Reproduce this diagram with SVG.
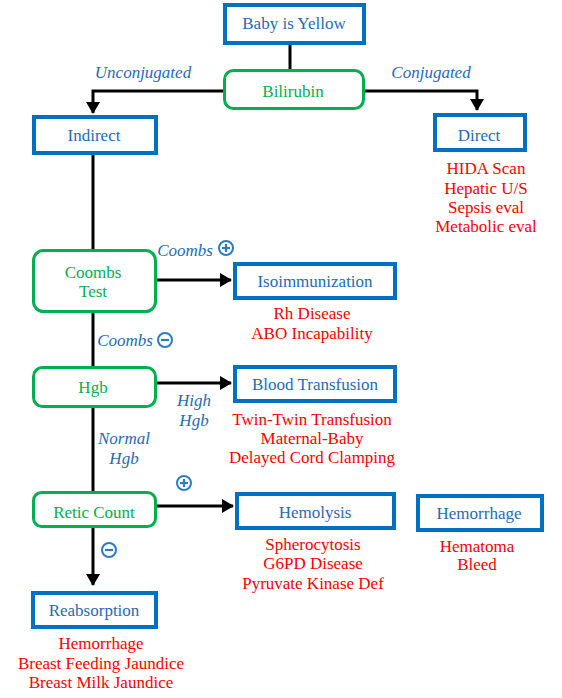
<svg xmlns="http://www.w3.org/2000/svg" width="562" height="698" viewBox="0 0 562 698" font-family="Liberation Serif, Times New Roman, serif" font-size="17" text-anchor="middle">
<defs>
<style>
.bx{fill:#fff;stroke:#0070C0;stroke-width:4}
.gx{fill:#fff;stroke:#00B050;stroke-width:3}
.bt{fill:#1F6BB5}
.gt{fill:#00B050}
.rt{fill:#FF0000}
.lb{font-style:italic;fill:#1F6BB5}
.ln{fill:none;stroke:#000;stroke-width:3}
.ic{fill:#fff;stroke:#2E7BC4;stroke-width:2}
.icl{stroke:#2E7BC4;stroke-width:2.2}
</style>
<marker id="ah" markerUnits="userSpaceOnUse" markerWidth="12" markerHeight="14" viewBox="0 0 12 14" refX="11" refY="7" orient="auto">
<path d="M0,0 L12,7 L0,14 Z" fill="#000"/>
</marker>
</defs>

<g id="connectors">
<line class="ln" x1="290" y1="45" x2="290" y2="70"/>
<polyline class="ln" points="223,91 93,91 93,113" marker-end="url(#ah)"/>
<polyline class="ln" points="365,91 477,91 477,110" marker-end="url(#ah)"/>
<line class="ln" x1="93" y1="155" x2="93" y2="249"/>
<line class="ln" x1="157" y1="280" x2="231" y2="280" marker-end="url(#ah)"/>
<line class="ln" x1="93" y1="313" x2="93" y2="366"/>
<line class="ln" x1="157" y1="383" x2="231" y2="383" marker-end="url(#ah)"/>
<line class="ln" x1="93" y1="408" x2="93" y2="491"/>
<line class="ln" x1="157" y1="506" x2="233" y2="506" marker-end="url(#ah)"/>
<line class="ln" x1="93" y1="528" x2="93" y2="585" marker-end="url(#ah)"/>
</g>

<g id="labels">
<text class="lb" x="143" y="78">Unconjugated</text>
<text class="lb" x="431" y="78">Conjugated</text>
<text class="lb" x="185" y="256">Coombs</text>
<g id="plus1"><circle class="ic" cx="226" cy="248" r="7"/><line class="icl" x1="222" y1="248" x2="230" y2="248"/><line class="icl" x1="226" y1="244" x2="226" y2="252"/></g>
<text class="lb" x="125" y="346">Coombs</text>
<g id="minus1"><circle class="ic" cx="165" cy="340" r="7"/><line class="icl" x1="161" y1="340" x2="169" y2="340"/></g>
<text class="lb" x="194" y="406">High</text>
<text class="lb" x="194" y="426">Hgb</text>
<text class="lb" x="124" y="444">Normal</text>
<text class="lb" x="124" y="464">Hgb</text>
<g id="plus2"><circle class="ic" cx="184" cy="483" r="7"/><line class="icl" x1="180" y1="483" x2="188" y2="483"/><line class="icl" x1="184" y1="479" x2="184" y2="487"/></g>
<g id="minus2"><circle class="ic" cx="109" cy="550" r="7"/><line class="icl" x1="105" y1="550" x2="113" y2="550"/></g>
</g>

<g id="baby"><rect class="bx" x="225" y="5" width="139" height="38"/><text class="bt" x="294" y="29">Baby is Yellow</text></g>
<g id="bilirubin"><rect class="gx" x="224.5" y="70.5" width="139" height="38" rx="9"/><text class="gt" x="293" y="97">Bilirubin</text></g>
<g id="indirect"><rect class="bx" x="34" y="117" width="122" height="36"/><text class="bt" x="94" y="141">Indirect</text></g>
<g id="direct"><rect class="bx" x="435" y="115" width="90" height="35"/><text class="bt" x="479" y="141">Direct</text>
<text class="rt" x="486" y="174">HIDA Scan</text><text class="rt" x="486" y="194">Hepatic U/S</text><text class="rt" x="486" y="213">Sepsis eval</text><text class="rt" x="486" y="232">Metabolic eval</text></g>
<g id="coombs"><rect class="gx" x="33.5" y="250.5" width="122" height="61" rx="10"/><text class="gt" x="93" y="278">Coombs</text><text class="gt" x="93" y="297">Test</text></g>
<g id="isoimmunization"><rect class="bx" x="235" y="264" width="160" height="34"/><text class="bt" x="315" y="287">Isoimmunization</text>
<text class="rt" x="312" y="319">Rh Disease</text><text class="rt" x="312" y="339">ABO Incapability</text></g>
<g id="hgb"><rect class="gx" x="33.5" y="367.5" width="122" height="39" rx="9"/><text class="gt" x="93" y="393">Hgb</text></g>
<g id="transfusion"><rect class="bx" x="235" y="367" width="160" height="34"/><text class="bt" x="315" y="390">Blood Transfusion</text>
<text class="rt" x="312" y="425">Twin-Twin Transfusion</text><text class="rt" x="312" y="444">Maternal-Baby</text><text class="rt" x="312" y="463">Delayed Cord Clamping</text></g>
<g id="retic"><rect class="gx" x="33.5" y="492.5" width="122" height="34" rx="8"/><text class="gt" x="94" y="518">Retic Count</text></g>
<g id="hemolysis"><rect class="bx" x="237" y="494" width="157" height="34"/><text class="bt" x="315" y="518">Hemolysis</text>
<text class="rt" x="313" y="550">Spherocytosis</text><text class="rt" x="313" y="569">G6PD Disease</text><text class="rt" x="313" y="589">Pyruvate Kinase Def</text></g>
<g id="hemorrhage"><rect class="bx" x="418" y="496" width="124" height="34"/><text class="bt" x="479" y="519">Hemorrhage</text>
<text class="rt" x="477" y="552">Hematoma</text><text class="rt" x="477" y="570">Bleed</text></g>
<g id="reabsorption"><rect class="bx" x="33" y="593" width="123" height="34"/><text class="bt" x="94" y="616">Reabsorption</text>
<text class="rt" x="101" y="649">Hemorrhage</text><text class="rt" x="101" y="669">Breast Feeding Jaundice</text><text class="rt" x="101" y="688">Breast Milk Jaundice</text></g>
</svg>
